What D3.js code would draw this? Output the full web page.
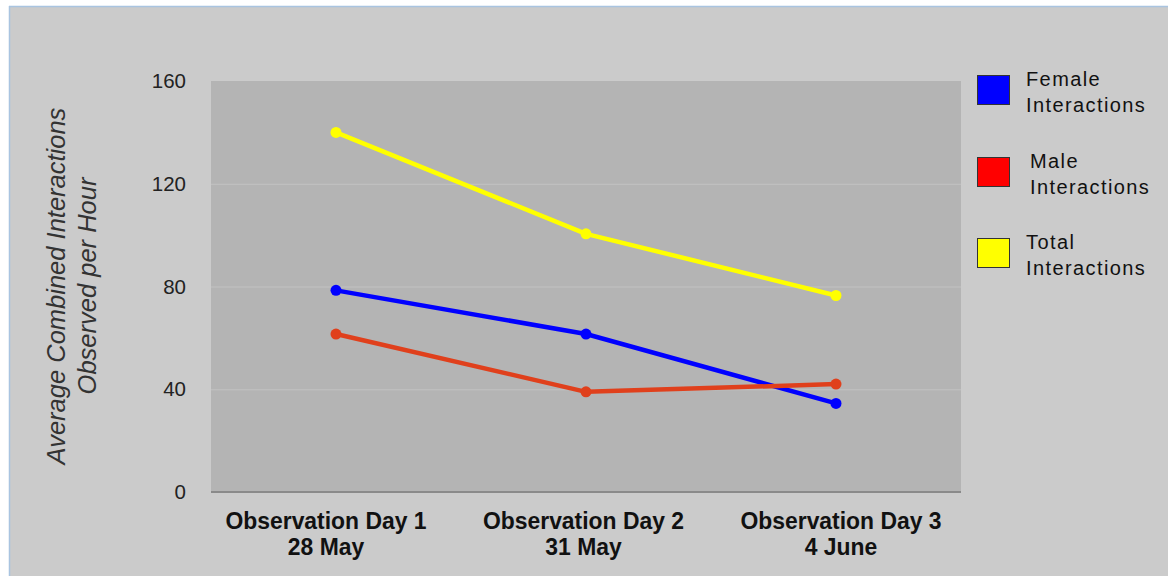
<!DOCTYPE html>
<html>
<head>
<meta charset="utf-8">
<script src="https://cdn.jsdelivr.net/npm/d3@7"></script>
<style>
  html, body { margin: 0; padding: 0; background: #ffffff; }
  svg { display: block; }
</style>
</head>
<body>
<svg id="chart" width="1168" height="576"></svg>
<script>
// Observation days (two-line category labels)
const days = ["Observation Day 1", "Observation Day 2", "Observation Day 3"];
const dates = ["28 May", "31 May", "4 June"];

// Average interactions observed per hour
const female = [78.5, 61.5, 34.5];
const male = [61.5, 39, 42];
const total = [140, 100.5, 76.5];

const yTicks = [0, 40, 80, 120, 160];

const seriesNames = ["Female Interactions", "Male Interactions", "Total Interactions"];
const lineColors = ["#0000ff", "#e0401c", "#ffff00"];
const swatchColors = ["#0000ff", "#ff0000", "#ffff00"];

const svg = d3.select("#chart");
const W = 1168, H = 576;

// page frame
svg.append("rect").attr("x", 9).attr("y", 6).attr("width", W - 9).attr("height", H - 6)
  .attr("fill", "#cbcbcb");
svg.append("line").attr("x1", 9.5).attr("x2", 9.5).attr("y1", 6).attr("y2", H)
  .attr("stroke", "#a9c4e0").attr("stroke-width", 1.5);
svg.append("line").attr("x1", 9).attr("x2", W).attr("y1", 6.5).attr("y2", 6.5)
  .attr("stroke", "#a9c4e0").attr("stroke-width", 1.5);

const plot = { left: 211, right: 961, top: 81, bottom: 492 };

const x = d3.scaleBand().domain(days).range([plot.left, plot.right]);
const y = d3.scaleLinear().domain([0, 160]).range([plot.bottom, plot.top]);

// plot background
svg.append("rect")
  .attr("x", plot.left).attr("y", plot.top)
  .attr("width", plot.right - plot.left).attr("height", plot.bottom - plot.top)
  .attr("fill", "#b4b4b4");

// gridlines
svg.append("g").selectAll("line").data(yTicks.filter(t => t > 0 && t < 160)).join("line")
  .attr("x1", plot.left).attr("x2", plot.right)
  .attr("y1", d => y(d) + 0.5).attr("y2", d => y(d) + 0.5)
  .attr("stroke", "#c2c2c2").attr("stroke-width", 1);

// baseline
svg.append("line")
  .attr("x1", plot.left).attr("x2", plot.right)
  .attr("y1", plot.bottom).attr("y2", plot.bottom)
  .attr("stroke", "#8a8a8a").attr("stroke-width", 2);

// y axis labels
const yAxis = d3.axisLeft(y).tickValues(yTicks).tickSize(0).tickPadding(25);
const yg = svg.append("g").attr("transform", `translate(${plot.left},0)`).call(yAxis);
yg.select(".domain").remove();
yg.selectAll("text")
  .attr("font-family", "Liberation Sans, Arial, sans-serif")
  .attr("font-size", 20.5).attr("fill", "#222");

// x axis labels: bold, two lines
const labelX = d3.scalePoint().domain(days).range([326, 841]);
const xg = svg.append("g");
days.forEach((d, i) => {
  const cx = labelX(d);
  const t = xg.append("text")
    .attr("transform", `translate(${cx},0) scale(0.955,1)`)
    .attr("text-anchor", "middle")
    .attr("font-family", "Liberation Sans, Arial, sans-serif")
    .attr("font-weight", "bold").attr("font-size", 24).attr("fill", "#111");
  t.append("tspan").attr("x", 0).attr("y", 529).text(d);
  t.append("tspan").attr("x", 0).attr("y", 555).text(dates[i]);
});

// y axis title
const yt = svg.append("text")
  .attr("transform", "translate(57,286) rotate(-90)")
  .attr("text-anchor", "middle")
  .attr("font-family", "Liberation Sans, Arial, sans-serif")
  .attr("font-style", "italic").attr("font-size", 25.5).attr("fill", "#333");
yt.append("tspan").attr("x", 0).attr("y", 8).text("Average Combined Interactions");
yt.append("tspan").attr("x", 0).attr("y", 39).text("Observed per Hour");

// series lines and markers
const series = [female, male, total];
const line = d3.line().x((v, i) => x(days[i]) + x.bandwidth() / 2).y(v => y(v));
[2, 0, 1].forEach(si => {
  const vals = series[si];
  svg.append("path").datum(vals)
    .attr("d", line).attr("fill", "none")
    .attr("stroke", lineColors[si]).attr("stroke-width", 4.5)
    .attr("stroke-linejoin", "round");
  svg.append("g").selectAll("circle").data(vals).join("circle")
    .attr("cx", (v, i) => x(days[i]) + x.bandwidth() / 2)
    .attr("cy", v => y(v)).attr("r", 5.5)
    .attr("fill", lineColors[si]);
});

// legend
const legendTop = [75, 157, 238];
const textX = [1026, 1030, 1026];
seriesNames.forEach((name, i) => {
  const g = svg.append("g");
  g.append("rect").attr("x", 977.5).attr("y", legendTop[i] + 0.5)
    .attr("width", 32).attr("height", 29)
    .attr("fill", swatchColors[i]).attr("stroke", "#333").attr("stroke-width", 1);
  const parts = name.split(" ");
  const t = g.append("text")
    .attr("font-family", "Liberation Sans, Arial, sans-serif")
    .attr("font-size", 20).attr("letter-spacing", 1.4).attr("fill", "#111");
  t.append("tspan").attr("x", textX[i]).attr("y", legendTop[i] + 11).text(parts[0]);
  t.append("tspan").attr("x", textX[i]).attr("y", legendTop[i] + 37).text(parts[1]);
});
</script>
</body>
</html>
